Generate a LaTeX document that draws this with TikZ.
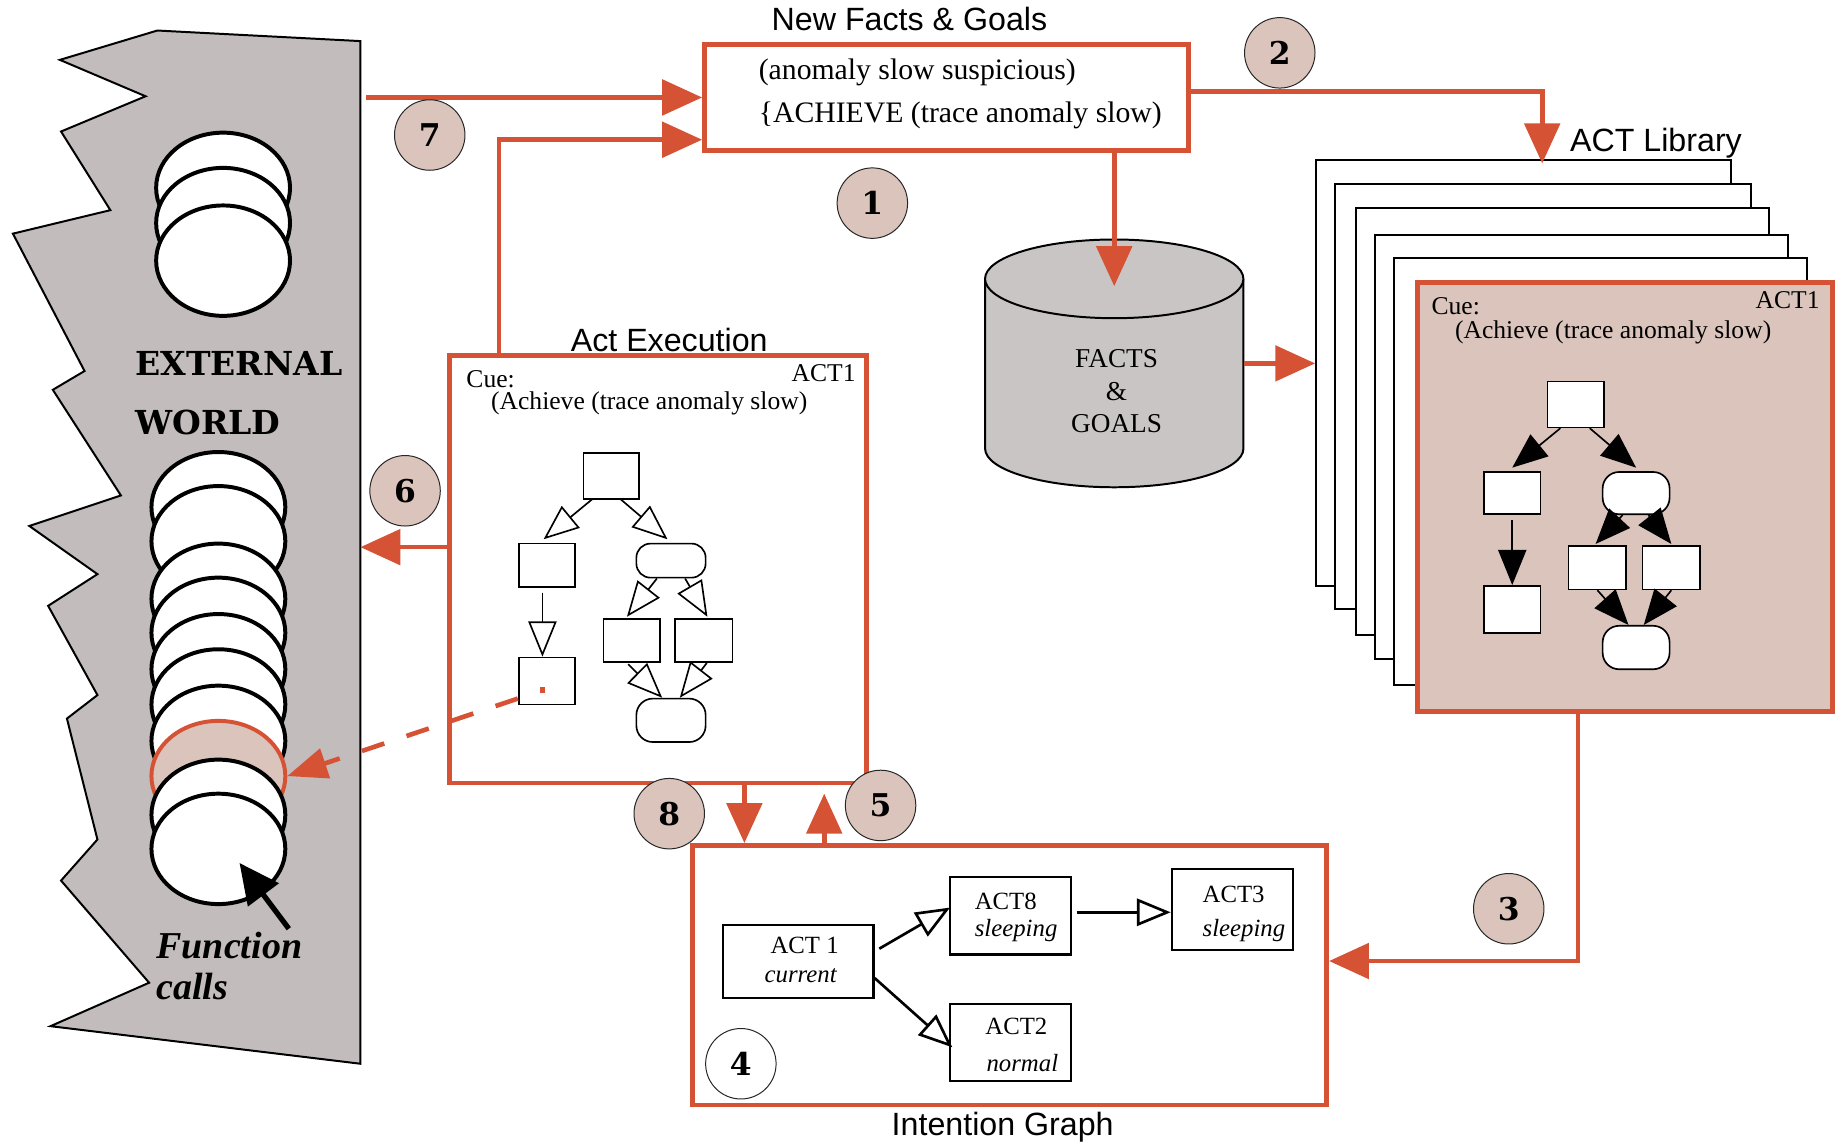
\documentclass[tikz,border=0pt]{standalone}
\usepackage{fontspec}
\setmainfont{Liberation Serif}
\setsansfont{Liberation Sans}
\newfontfamily\heavyserif{DejaVu Serif}
\usetikzlibrary{arrows.meta,fit,calc,shapes.geometric}

\definecolor{rust}{RGB}{213,83,52}
\definecolor{blush}{RGB}{219,196,188}
\definecolor{stone}{RGB}{194,188,188}
\definecolor{drum}{RGB}{201,197,197}

\newcommand\capfont{\sffamily\fontsize{19.5}{22}\selectfont}
\newcommand\bodyfont{\fontsize{18}{21}\selectfont}
\newcommand\cuefont{\fontsize{15.5}{18}\selectfont}
\newcommand\actfont{\fontsize{15}{17}\selectfont}
\newcommand\worldfont{\heavyserif\bfseries\fontsize{20}{22}\selectfont}
\newcommand\callfont{\bfseries\itshape\fontsize{23}{25}\selectfont}

\tikzset{
  frame/.style={draw=rust, line width=2.8pt, inner sep=0pt},
  flow/.style={draw=rust, line width=2.8pt, -{Triangle[length=0.85cm,width=0.75cm]}},
  badge/.style={circle, draw=black!85, line width=0.6pt, fill=blush, minimum size=1.5cm,
    inner sep=0pt, font=\heavyserif\bfseries\fontsize{19}{19}\selectfont},
  sheet/.style={draw, fill=white, line width=1.2pt, inner sep=0pt},
  cell/.style={draw, fill=white, line width=1pt, inner sep=0pt},
  pill/.style={cell, rounded corners=0.35cm},
  disk/.style={ellipse, draw, fill=white, line width=2.4pt, minimum width=2.85cm,
    minimum height=2.35cm, inner sep=0pt},
  hollow/.style={draw, line width=1pt, -{Triangle[fill=white, length=0.75cm, width=0.6cm]}},
  blacktip/.style={draw, line width=1pt, -{Triangle[length=0.75cm, width=0.6cm]}},
  actbox/.style={draw, line width=1.3pt, fill=white, inner sep=0pt},
  link/.style={draw, line width=1.6pt, -{Triangle[fill=white, length=0.72cm, width=0.58cm]}},
  txt/.style={inner sep=0pt, anchor=base west},
  txtc/.style={inner sep=0pt, anchor=base},
  txte/.style={inner sep=0pt, anchor=base east},
}

\begin{document}
\begin{tikzpicture}[x=0.025cm, y=-0.025cm]
\useasboundingbox (0,0) rectangle (1568,973);

% ---------------- external world ----------------
\draw[fill=stone, line width=1.2pt, line join=miter]
  (134,26) -- (51,51) -- (124,82) -- (52,112) -- (94,179) -- (11,199) -- (72,316)
  -- (45,332) -- (103,422) -- (25,448) -- (83,489) -- (41,516) -- (83,592)
  -- (57,612) -- (83,715) -- (52,750) -- (127,837) -- (43,874) -- (307,906)
  -- (307,35) -- cycle;
\coordinate (edge7) at (312,83);
\coordinate (edge6) at (307,466);

\foreach \yy [count=\k] in {160,190,222}
  \node[disk] (top\k) at (190,\yy) {};
\foreach \yy [count=\k] in {432,461,510,539,570,600,631}
  \node[disk] (low\k) at (186,\yy) {};
\node[disk, draw=rust, fill=blush] (call) at (186,661) {};
\node[disk] (low9) at (186,694) {};
\node[disk] (low10) at (186,723) {};

\node[txt, font=\worldfont] (ext) at (115,320) {EXTERNAL};
\node[txt, font=\worldfont] (wld) at (115,370) {WORLD};
\node[txt, font=\callfont] (fn) at (133,816) {Function};
\node[txt, font=\callfont] (fc) at (133,851) {calls};
\coordinate (fntail) at (246,791);
\draw[line width=3.2pt, -{Triangle[length=0.85cm,width=0.8cm]}] (fntail) -- (204,735);

% ---------------- new facts & goals ----------------
\node[frame, fit={(600,38)(1012,128)}] (nf) {};
\node[txt, font=\capfont] (nft) at (657,26) {New Facts \& Goals};
\node[txt, font=\bodyfont] (nf1) at (646,68) {(anomaly slow suspicious)};
\node[txt, font=\bodyfont] (nf2) at (646,104) {\{ACHIEVE (trace anomaly slow)};

% ---------------- facts & goals store ----------------
\node[inner sep=0pt, fit={(839,204)(1059,415)}] (db) {};
\fill[drum] (839,238) -- (839,382) arc[start angle=180, end angle=360, x radius=2.75cm, y radius=0.825cm]
  -- (1059,238) -- cycle;
\draw[line width=1.2pt] (839,238) -- (839,382) arc[start angle=180, end angle=360, x radius=2.75cm, y radius=0.825cm]
  -- (1059,238);
\draw[line width=1.2pt, fill=drum] (949,237.5) ellipse [x radius=2.75cm, y radius=0.8375cm];
\node[txtc, font=\fontsize{16.5}{19}\selectfont] (dbf) at (951,313) {FACTS};
\node[txtc, font=\fontsize{16.5}{19}\selectfont] (dba) at (951,341) {\&};
\node[txtc, font=\fontsize{16.5}{19}\selectfont] (dbg) at (951,368) {GOALS};

% ---------------- ACT library ----------------
\node[sheet, fit={(1121,136)(1474,499)}] (s1) {};
\node[sheet, fit={(1137,157)(1491,519)}] (s2) {};
\node[sheet, fit={(1155,177)(1507,541)}] (s3) {};
\node[sheet, fit={(1171,200)(1523,561)}] (s4) {};
\node[sheet, fit={(1187,220)(1539,583)}] (s5) {};
\node[frame, line width=3pt, fill=blush, fit={(1207,241)(1561,606)}] (card) {};
\node[txt, font=\capfont] (libt) at (1337,129) {ACT Library};
\node[txt, font=\cuefont] (cc) at (1219,267.5) {Cue:};
\node[txte, font=\cuefont] (cn) at (1550,263) {ACT1};
\node[txt, font=\cuefont] (ca) at (1239,288) {(Achieve (trace anomaly slow)};

\node[cell, fit={(1318,325)(1366,364)}] (T) {};
\node[cell, fit={(1264,402)(1312,438)}] (L) {};
\node[pill, fit={(1365,402)(1422,438)}] (R) {};
\node[cell, fit={(1264,499)(1312,539)}] (LL) {};
\node[cell, fit={(1336,465)(1385,502)}] (M1) {};
\node[cell, fit={(1399,465)(1448,502)}] (M2) {};
\node[pill, fit={(1365,533)(1422,570)}] (B) {};
\draw[blacktip] ($(T.south)+(-13,0)$) -- ($(L.north)+(0,-3)$);
\draw[blacktip] ($(T.south)+(12,0)$) -- ($(R.north)+(0,-3)$);
\draw[blacktip] ($(L.south)+(0,4)$) -- (LL.north);
\draw[blacktip] ($(R.south)+(-11.5,0)$) -- ($(M1.north)+(-1.5,-1)$);
\draw[blacktip] ($(R.south)+(10.5,0)$) -- ($(M2.north)+(0,-1)$);
\draw[blacktip] (M1.south) -- ($(B.north)+(-6.5,0)$);
\draw[blacktip] (M2.south) -- ($(B.north)+(6.5,0)$);

% ---------------- act execution ----------------
\node[frame, fit={(383,303)(738,667)}] (ax) {};
\node[txtc, font=\capfont] (axt) at (570,299) {Act Execution};
\node[txt, font=\cuefont] (xc) at (397,330) {Cue:};
\node[txte, font=\cuefont] (xn) at (729,324.5) {ACT1};
\node[txt, font=\cuefont] (xa) at (418,349) {(Achieve (trace anomaly slow)};

\node[cell, fit={(497,386)(544,425)}] (xt) {};
\node[cell, fit={(442,463)(490,500)}] (xl) {};
\node[pill, rounded corners=0.3cm, fit={(542,463)(601,492)}] (xr) {};
\node[cell, fit={(442,560)(490,600)}] (xll) {};
\node[cell, fit={(514,527)(562,564)}] (xm1) {};
\node[cell, fit={(575,527)(624,564)}] (xm2) {};
\node[pill, fit={(542,595)(601,632)}] (xb) {};
\draw[hollow] ($(xt.south)+(-15.5,-1)$) -- ($(xl.north)+(-3,-3)$);
\draw[hollow] ($(xt.south)+(7.5,-1)$) -- ($(xr.north)+(-3,-3)$);
\draw[hollow] ($(xl.south)+(-4,4)$) -- ($(xll.north)+(-4,0)$);
\draw[hollow] ($(xr.south)+(-12,0)$) -- ($(xm1.north)+(-4,-1)$);
\draw[hollow] ($(xr.south)+(12,0)$) -- ($(xm2.north)+(3,-1)$);
\draw[hollow] ($(xm1.south)+(-3,1)$) -- ($(xb.north)+(-7.5,0)$);
\draw[hollow] ($(xm2.south)+(2.5,0)$) -- ($(xb.north)+(7.5,0)$);

\coordinate (probe) at ($(xll.center)+(-4,8)$);
\fill[rust] ($(probe)+(-2.5,-2.5)$) rectangle ($(probe)+(2.5,2.5)$);
\draw[rust, line width=2.8pt, dash pattern=on 0.5cm off 0.5cm, dash phase=0.5cm,
  -{Triangle[length=0.85cm,width=0.65cm]}] ($(probe)+(-2,0.6)$) -- (call.east);

% ---------------- intention graph ----------------
\node[frame, fit={(590,720)(1130,941)}] (ig) {};
\node[txtc, font=\capfont] (igt) at (854,967) {Intention Graph};
\node[actbox, fit={(616,788)(744,850)}] (act1) {};
\node[actbox, fit={(809,747)(912,813)}] (act8) {};
\node[actbox, fit={(998,740)(1101,809)}] (act3) {};
\node[actbox, fit={(809,855)(912,921)}] (act2) {};
\node[txt, font=\actfont] at (656,812) {ACT 1};
\node[txt, font=\actfont\itshape] at (651,837) {current};
\node[txt, font=\actfont] at (830,775) {ACT8};
\node[txt, font=\actfont\itshape] at (830,798) {sleeping};
\node[txt, font=\actfont] at (1024,769) {ACT3};
\node[txt, font=\actfont\itshape] at (1024,798) {sleeping};
\node[txt, font=\actfont] at (839,881) {ACT2};
\node[txt, font=\actfont\itshape] at (840,913) {normal};
\draw[link] ($(act1.east)+(4,-11)$) -- ($(act8.west)+(1,-7)$);
\draw[link] ($(act1.east)+(0,14)$) -- ($(act2.west)+(3,4)$);
\draw[link] ($(act8.east)+(4,-3)$) -- ($(act3.west)+(0,2.5)$);

% ---------------- flows ----------------
\draw[flow] (edge7) -- (nf.west);
\draw[flow] (ax.north -| 425,0) |- ($(nf.west)+(0,36)$);
\draw[flow] ($(nf.east)+(0,-5)$) -| ($(s1.north)+(16,4)$);
\draw[flow] (nf.south -| db.north) -- ($(db.north)+(0,40)$);
\draw[flow] (db.east) -- (db.east -| s1.west);
\draw[flow] (card.south -| 1344,0) |- ($(ig.east)+(0,-12)$);
\draw[flow] (ax.south -| 634,0) -- (ig.north -| 634,0);
\draw[flow] (ig.north -| 702,0) -- ($(ax.south -| 702,0)+(0,7)$);
\draw[flow] ($(ax.west)+(0,-19)$) -- (edge6);

% ---------------- step badges ----------------
\node[badge] (b1) at (743,173) {1};
\node[badge] (b2) at (1090,45) {2};
\node[badge] (b3) at (1285,774) {3};
\node[badge, fill=white] (b4) at (631,906) {4};
\node[badge] (b5) at (750,686) {5};
\node[badge] (b6) at (345,418) {6};
\node[badge] (b7) at (366,115) {7};
\node[badge] (b8) at (570,693) {8};
\end{tikzpicture}
\end{document}
